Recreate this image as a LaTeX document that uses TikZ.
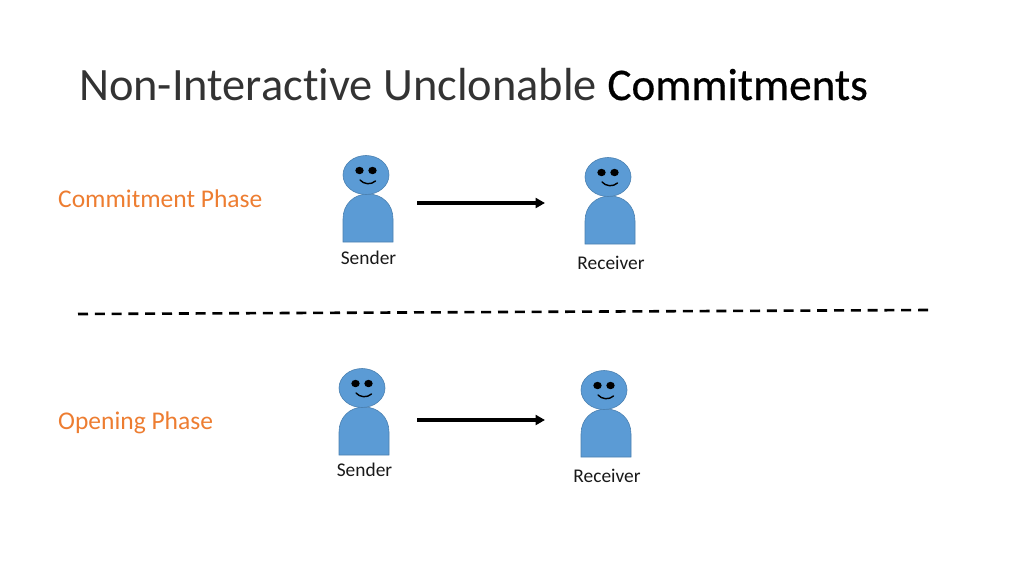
\documentclass[tikz,border=0pt]{standalone}
\usepackage{fontspec}
\setmainfont{Carlito}[Ligatures=NoCommon]
\usetikzlibrary{arrows.meta}
\definecolor{personblue}{HTML}{5B9BD5}
\definecolor{personedge}{HTML}{4A80B0}
\definecolor{phaseorange}{HTML}{ED7D31}
\tikzset{
  x=1pt,y=-1pt,
  persondraw/.style={fill=personblue,draw=personedge,line width=0.6pt},
  titletext/.style={anchor=base west,inner sep=0,font=\fontsize{46.4}{52}\selectfont,text=black!80},
  phasetext/.style={anchor=base west,inner sep=0,font=\fontsize{25.5}{30}\selectfont,text=phaseorange},
  nametext/.style={anchor=base,inner sep=0,font=\fontsize{19.4}{23}\selectfont,text=black!90},
  msgarrow/.style={line width=3.2pt,-{Triangle[length=9.5pt,width=10pt]}},
  person/.pic={
    \path[persondraw] (-23,67) -- (-23,44) .. controls (-23,29) and (-12,19) .. (2,19) .. controls (16,19) and (27,29) .. (27,44) -- (27,67) -- cycle;
    \path[persondraw] (0,0) ellipse[x radius=23,y radius=19.5];
    \fill[black] (-6.5,-4.5) ellipse[x radius=4.2,y radius=3.7];
    \fill[black] (6.5,-4.5) ellipse[x radius=4.2,y radius=3.7];
    \draw[black,line width=1.4pt,line cap=round] (-6,5) .. controls (-2,9.5) and (5,10) .. (9.5,6);
  }
}
\begin{document}
\begin{tikzpicture}
\useasboundingbox (0,0) rectangle (1024,576);
\node[titletext] (title) at (79,100) {Non-Interactive Unclonable {\fontsize{45.2}{52}\selectfont\addfontfeatures{FakeBold=0.5}\color{black}Commitments}};
\node[phasetext] (phaseA) at (58,207) {Commitment Phase};
\node[phasetext] (phaseB) at (58,429) {Opening Phase};
\pic at (366,175) {person};
\pic at (608,177) {person};
\pic at (362,388) {person};
\pic at (604,390) {person};
\node[nametext] (senderA) at (368.5,264) {Sender};
\node[nametext] (receiverA) at (611,269.5) {Receiver};
\node[nametext] (senderB) at (364.5,476.5) {Sender};
\node[nametext] (receiverB) at (607,482) {Receiver};
\coordinate (a1) at (417,203);
\coordinate (a2) at (545,203);
\coordinate (b1) at (417,420);
\coordinate (b2) at (545,420);
\coordinate (d1) at (78,314);
\coordinate (d2) at (928,310);
\draw[msgarrow] (a1) -- (a2);
\draw[msgarrow] (b1) -- (b2);
\draw[black,line width=2.6pt,dash pattern=on 10pt off 6.8pt] (d1) -- (d2);
\end{tikzpicture}
\end{document}
